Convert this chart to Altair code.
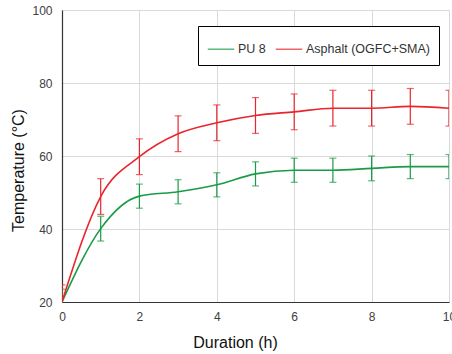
import altair as alt
import pandas as pd

hours = [0, 1, 2, 3, 4, 5, 6, 7, 8, 9, 10]
pu8_mean = [20, 40.1, 49.0, 50.2, 52.1, 55.1, 56.1, 56.1, 56.6, 57.1, 57.1]
pu8_err = [3.5, 3.4, 3.3, 3.3, 3.3, 3.3, 3.3, 3.3, 3.4, 3.3, 3.3]
asp_mean = [20, 48.9, 59.8, 66.1, 69.1, 71.1, 72.1, 73.1, 73.1, 73.6, 73.1]
asp_err = [4.7, 4.9, 4.9, 4.9, 4.9, 4.9, 4.9, 4.9, 4.9, 4.9, 4.9]
series = ["PU 8", "Asphalt (OGFC+SMA)"]
colors = ["#1a9b46", "#e8252b"]

rows = []
for name, m, e in [(series[0], pu8_mean, pu8_err), (series[1], asp_mean, asp_err)]:
    for h, v, er in zip(hours, m, e):
        rows.append({"Duration": h, "Temp": v, "lo": v - er, "hi": v + er, "Series": name})
df = pd.DataFrame(rows)

color = alt.Color(
    "Series:N",
    scale=alt.Scale(domain=series, range=colors),
    sort=series,
    legend=alt.Legend(
        title=None,
        orient="none",
        legendX=136,
        legendY=16,
        direction="horizontal",
        symbolType="stroke",
        symbolSize=700,
        symbolStrokeWidth=1.5,
        labelFont="Liberation Sans",
        labelFontSize=12.5,
        labelColor="#333333",
        strokeColor="#000000",
        padding=9,
        columnPadding=6,
        labelOffset=3,
        fillColor="white",
        cornerRadius=0,
    ),
)

yscale = alt.Scale(domain=[20, 100], nice=False)
xscale = alt.Scale(domain=[0, 10], nice=False)

x = alt.X(
    "Duration:Q",
    scale=xscale,
    axis=alt.Axis(
        title="Duration (h)",
        values=[0, 2, 4, 6, 8, 10],
        tickSize=0,
        labelPadding=9,
        titlePadding=12,
        labelFlush=False,
        titleX=173,
    ),
)
y = alt.Y(
    "Temp:Q",
    scale=yscale,
    axis=alt.Axis(
        title="Temperature (°C)",
        values=[20, 40, 60, 80, 100],
        tickSize=0,
        labelPadding=10,
        titlePadding=5,
        titleY=160,
    ),
)

lines = alt.Chart(df).mark_line(interpolate="monotone", strokeWidth=1.6, clip=True).encode(
    x=x, y=y, color=color
)
err = alt.Chart(df).mark_errorbar(ticks={"size": 7}, thickness=1.2, clip=True).encode(
    x=alt.X("Duration:Q", scale=xscale),
    y=alt.Y("lo:Q", title="Temperature (°C)", scale=yscale),
    y2="hi:Q",
    color=color,
)

chart = (
    alt.layer(err, lines)
    .properties(
        width=387,
        height=292,
        autosize=alt.AutoSizeParams(type="none"),
        padding={"left": 62, "top": 10, "right": 3, "bottom": 52},
    )
    .configure_view(stroke=None)
    .configure_axis(
        labelFont="Liberation Sans",
        titleFont="Liberation Sans",
        labelFontSize=12,
        titleFontSize=16,
        titleFontWeight="normal",
        labelColor="#404040",
        titleColor="#111111",
        gridColor="#d9d9d9",
        domainColor="#333333",
        domainWidth=1.2,
    )
)

chart.save("out.html", embed_options={"renderer": "svg", "actions": False})
